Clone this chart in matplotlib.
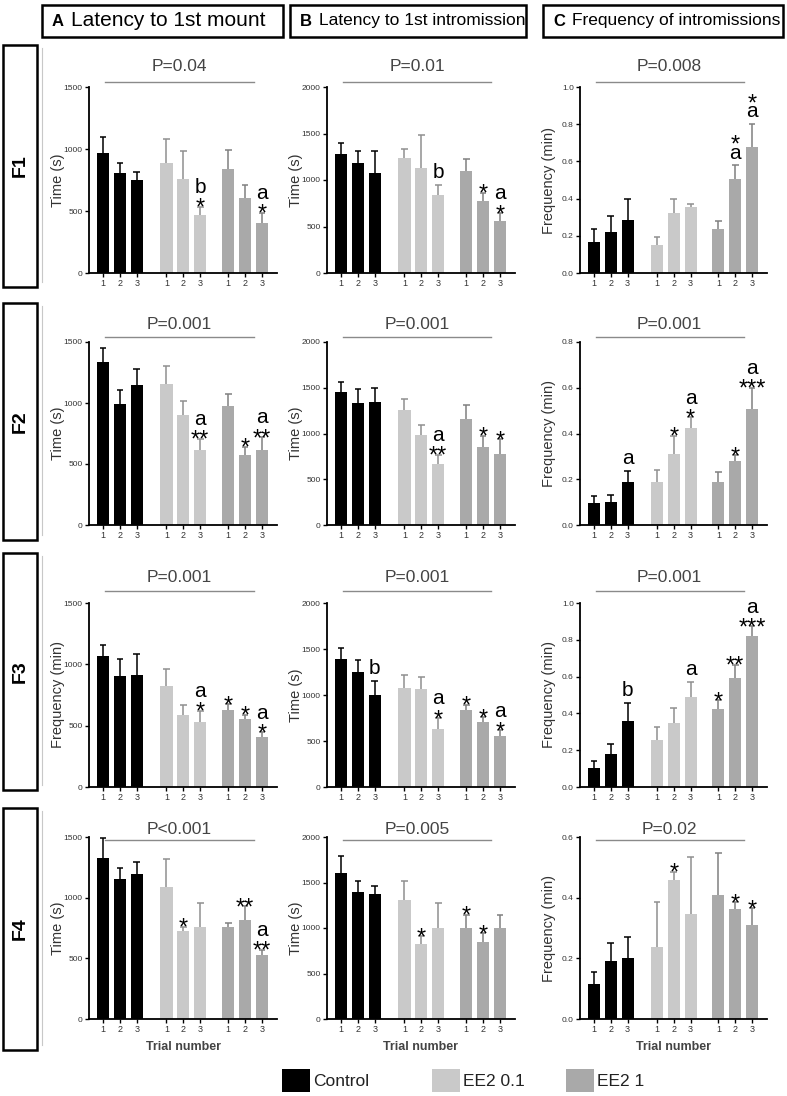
import matplotlib
matplotlib.use('Agg')
import matplotlib.pyplot as plt
from matplotlib.patches import Rectangle
from matplotlib.lines import Line2D
from matplotlib.transforms import blended_transform_factory
import numpy as np

plt.rcParams['font.family'] = ['Liberation Sans', 'DejaVu Sans']

# ---------------- data ----------------
groups = ['Control', 'EE2 0.1', 'EE2 1']
trials = ['1', '2', '3']
col_letters = ['A', 'B', 'C']
col_titles = ['Latency to 1st mount', 'Latency to 1st intromission', 'Frequency of intromissions']
row_labels = ['F1', 'F2', 'F3', 'F4']
p_values = [['P=0.04', 'P=0.01', 'P=0.008'],
            ['P=0.001', 'P=0.001', 'P=0.001'],
            ['P=0.001', 'P=0.001', 'P=0.001'],
            ['P<0.001', 'P=0.005', 'P=0.02']]
y_labels = [['Time (s)', 'Time (s)', 'Frequency (min)'],
            ['Time (s)', 'Time (s)', 'Frequency (min)'],
            ['Frequency (min)', 'Time (s)', 'Frequency (min)'],
            ['Time (s)', 'Time (s)', 'Frequency (min)']]
y_max = [[1500, 2000, 1.0], [1500, 2000, 0.8], [1500, 2000, 1.0], [1500, 2000, 0.6]]

# order per panel: Control 1,2,3 | EE2 0.1 1,2,3 | EE2 1 1,2,3
F1_A_mean = [970, 805, 750, 885, 755, 470, 840, 605, 400]
F1_A_err = [125, 85, 65, 195, 225, 65, 155, 105, 85]
F1_B_mean = [1275, 1180, 1080, 1235, 1125, 835, 1100, 770, 555]
F1_B_err = [120, 135, 235, 100, 360, 110, 125, 92, 90]
F1_C_mean = [0.164, 0.218, 0.285, 0.149, 0.322, 0.355, 0.235, 0.504, 0.678]
F1_C_err = [0.072, 0.087, 0.111, 0.042, 0.074, 0.016, 0.045, 0.074, 0.122]

F2_A_mean = [1334, 992, 1147, 1158, 899, 617, 973, 573, 611]
F2_A_err = [119, 114, 130, 146, 120, 90, 100, 68, 110]
F2_B_mean = [1449, 1332, 1343, 1252, 982, 672, 1157, 854, 777]
F2_B_err = [117, 150, 157, 120, 109, 98, 150, 124, 161]
F2_C_mean = [0.095, 0.102, 0.19, 0.19, 0.31, 0.425, 0.19, 0.278, 0.505]
F2_C_err = [0.033, 0.031, 0.045, 0.05, 0.08, 0.045, 0.04, 0.027, 0.095]

F3_A_mean = [1065, 905, 915, 825, 585, 530, 625, 555, 405]
F3_A_err = [90, 140, 170, 140, 80, 90, 50, 35, 40]
F3_B_mean = [1390, 1255, 1005, 1080, 1060, 630, 840, 705, 550]
F3_B_err = [125, 130, 145, 135, 140, 120, 55, 55, 65]
F3_C_mean = [0.105, 0.18, 0.358, 0.257, 0.35, 0.49, 0.423, 0.595, 0.823]
F3_C_err = [0.035, 0.052, 0.099, 0.068, 0.082, 0.083, 0.049, 0.07, 0.05]

F4_A_mean = [1325, 1155, 1195, 1090, 725, 760, 760, 815, 530]
F4_A_err = [165, 90, 95, 225, 35, 200, 35, 115, 40]
F4_B_mean = [1600, 1400, 1370, 1305, 825, 1005, 1005, 850, 1005]
F4_B_err = [195, 120, 90, 215, 85, 265, 140, 90, 140]
F4_C_mean = [0.115, 0.19, 0.202, 0.237, 0.458, 0.345, 0.41, 0.363, 0.31]
F4_C_err = [0.04, 0.062, 0.068, 0.148, 0.027, 0.19, 0.138, 0.022, 0.055]

# significance marks per bar, listed bottom -> top, separated by '|'
F1_A_sig = ['', '', '', '', '', '*|b', '', '', '*|a']
F1_B_sig = ['', '', '', '', '', 'b', '', '*', '*|a']
F1_C_sig = ['', '', '', '', '', '', '', 'a|*', 'a|*']
F2_A_sig = ['', '', '', '', '', '**|a', '', '*', '**|a']
F2_B_sig = ['', '', '', '', '', '**|a', '', '*', '*']
F2_C_sig = ['', '', 'a', '', '*', '*|a', '', '*', '***|a']
F3_A_sig = ['', '', '', '', '', '*|a', '*', '*', '*|a']
F3_B_sig = ['', '', 'b', '', '', '*|a', '*', '*', '*|a']
F3_C_sig = ['', '', 'b', '', '', 'a', '*', '**', '***|a']
F4_A_sig = ['', '', '', '', '*', '', '', '**', '**|a']
F4_B_sig = ['', '', '', '', '*', '', '*', '*', '']
F4_C_sig = ['', '', '', '', '*', '', '', '*', '*']

means = [[F1_A_mean, F1_B_mean, F1_C_mean], [F2_A_mean, F2_B_mean, F2_C_mean],
         [F3_A_mean, F3_B_mean, F3_C_mean], [F4_A_mean, F4_B_mean, F4_C_mean]]
errs = [[F1_A_err, F1_B_err, F1_C_err], [F2_A_err, F2_B_err, F2_C_err],
        [F3_A_err, F3_B_err, F3_C_err], [F4_A_err, F4_B_err, F4_C_err]]
sigs = [[F1_A_sig, F1_B_sig, F1_C_sig], [F2_A_sig, F2_B_sig, F2_C_sig],
        [F3_A_sig, F3_B_sig, F3_C_sig], [F4_A_sig, F4_B_sig, F4_C_sig]]

# ---------------- style / layout ----------------
W, H = 787, 1096
fig = plt.figure(figsize=(W / 100, H / 100), dpi=100)

bar_colors = ['#000000', '#c9c9c9', '#a9a9a9']
err_colors = ['#000000', '#8f8f8f', '#808080']

col_left = [89, 327, 580]
col_w = [188, 188, 187]
row_top = [87, 342, 603, 837]
row_bot = [273, 525, 787, 1019]
p_line_y = [1.027, 1.027, 1.065, 0.985]
p_text_y = [1.11, 1.093, 1.136, 1.04]

group_offsets = [0.0, 3.75, 7.4]
positions = np.array([g + i for g in group_offsets for i in range(3)])
bar_w = 0.72


def fx(px):
    return px / W


def fy(py):
    return 1 - py / H


def add_marks(ax, x, ytop, label):
    if not label:
        return
    items = label.split('|')
    fs_star = 17
    fs_let = 15
    cursor = 1.0 if items[0].startswith('*') else 5.0
    for it in items:
        if it.startswith('*'):
            base = cursor - 0.40 * fs_star
            cursor += 0.29 * fs_star + 4.0
            fs = fs_star
        else:
            base = cursor
            cursor += (0.73 if it == 'b' else 0.53) * fs_let + 4.0
            fs = fs_let
        ax.annotate(it, (x, ytop), xytext=(0, base), textcoords='offset points',
                    ha='center', va='baseline', fontsize=fs, color='black',
                    annotation_clip=False)


for r in range(4):
    for c in range(3):
        l = col_left[c]
        ax = fig.add_axes([fx(l), fy(row_bot[r]), col_w[c] / W, (row_bot[r] - row_top[r]) / H])
        m = np.array(means[r][c], dtype=float)
        e = np.array(errs[r][c], dtype=float)
        cols = [bar_colors[i // 3] for i in range(9)]
        ecols = [err_colors[i // 3] for i in range(9)]
        ax.bar(positions, m, width=bar_w, color=cols, edgecolor='none', zorder=2)
        ax.vlines(positions, m, m + e, colors=ecols, lw=1.1, zorder=1)
        ax.hlines(m + e, positions - 0.2, positions + 0.2, colors=ecols, lw=1.1, zorder=1)
        ax.set_xlim(-0.83, positions[-1] + 0.89)
        ax.set_ylim(0, y_max[r][c])
        if c == 2:
            ticks = np.round(np.arange(0, y_max[r][c] + 1e-9, 0.2), 1)
            ax.set_yticks(ticks)
            ax.set_yticklabels(['%.1f' % t for t in ticks])
        else:
            ax.set_yticks(np.arange(0, y_max[r][c] + 1, 500))
        ax.set_xticks(positions)
        ax.set_xticklabels(trials * 3)
        for s in ['top', 'right']:
            ax.spines[s].set_visible(False)
        for s in ['left', 'bottom']:
            ax.spines[s].set_linewidth(1.3)
        ax.tick_params(axis='y', labelsize=6, length=3, width=1, pad=1.5, colors='black',
                       labelcolor='#333333')
        ax.tick_params(axis='x', labelsize=6.5, length=3, width=1, pad=1.5, colors='black',
                       labelcolor='#333333')
        ax.set_ylabel(y_labels[r][c], fontsize=10.5, color='#333333')
        ax.yaxis.set_label_coords(-24 / col_w[c], 0.5)
        if r == 3:
            ax.set_xlabel('Trial number', fontsize=9, fontweight='bold', color='#444444',
                          labelpad=5)
        for i in range(9):
            add_marks(ax, positions[i], m[i] + e[i], sigs[r][c][i])
        tr = blended_transform_factory(ax.transData, ax.transAxes)
        x0, x1 = positions[0] + 0.1, positions[-1] - 0.5
        ax.add_line(Line2D([x0, x1], [p_line_y[r]] * 2, transform=tr, color='#8a8a8a',
                           lw=1.0, clip_on=False))
        ax.text((x0 + x1) / 2, p_text_y[r], p_values[r][c], transform=tr, ha='center',
                va='center', fontsize=12.5, color='#444444', clip_on=False)

# column header boxes
head_boxes = [(42, 5, 283, 37), (290, 5, 526, 37), (543, 5, 783, 37)]
title_sizes = [15, 12.5, 12.5]
for (x0, y0, x1, y1), letter, title, ts in zip(head_boxes, col_letters, col_titles, title_sizes):
    fig.add_artist(Rectangle((fx(x0), fy(y1)), (x1 - x0) / W, (y1 - y0) / H,
                             transform=fig.transFigure, fill=False, lw=1.8, ec='black'))
    fig.text(fx(x0 + 10), fy((y0 + y1) / 2), letter, fontsize=12, fontweight='bold',
             va='center', ha='left')
    fig.text(fx(x0 + 29), fy((y0 + y1) / 2), title, fontsize=ts, va='center', ha='left')

# row label boxes
row_boxes = [(3, 45, 37, 287), (3, 303, 37, 540), (3, 553, 37, 790), (3, 808, 37, 1050)]
for (x0, y0, x1, y1), lab in zip(row_boxes, row_labels):
    fig.add_artist(Rectangle((fx(x0), fy(y1)), (x1 - x0) / W, (y1 - y0) / H,
                             transform=fig.transFigure, fill=False, lw=1.8, ec='black'))
    fig.text(fx((x0 + x1) / 2), fy((y0 + y1) / 2), lab, fontsize=14, fontweight='bold',
             rotation=90, va='center', ha='center')
    fig.add_artist(Line2D([fx(42), fx(42)], [fy(y0 + 3), fy(y1 - 5)],
                          transform=fig.transFigure, color='#c8c8c8', lw=0.8))

# legend
leg_patch_x = [282, 432, 566]
for gx, name, colr in zip(leg_patch_x, groups, bar_colors):
    fig.add_artist(Rectangle((fx(gx), fy(1092)), 28 / W, 23 / H, transform=fig.transFigure,
                             fc=colr, ec='none'))
    fig.text(fx(gx + 31), fy(1082), name, fontsize=12.5, va='center', ha='left', color='#222222')

fig.savefig('out.png', dpi=100)
